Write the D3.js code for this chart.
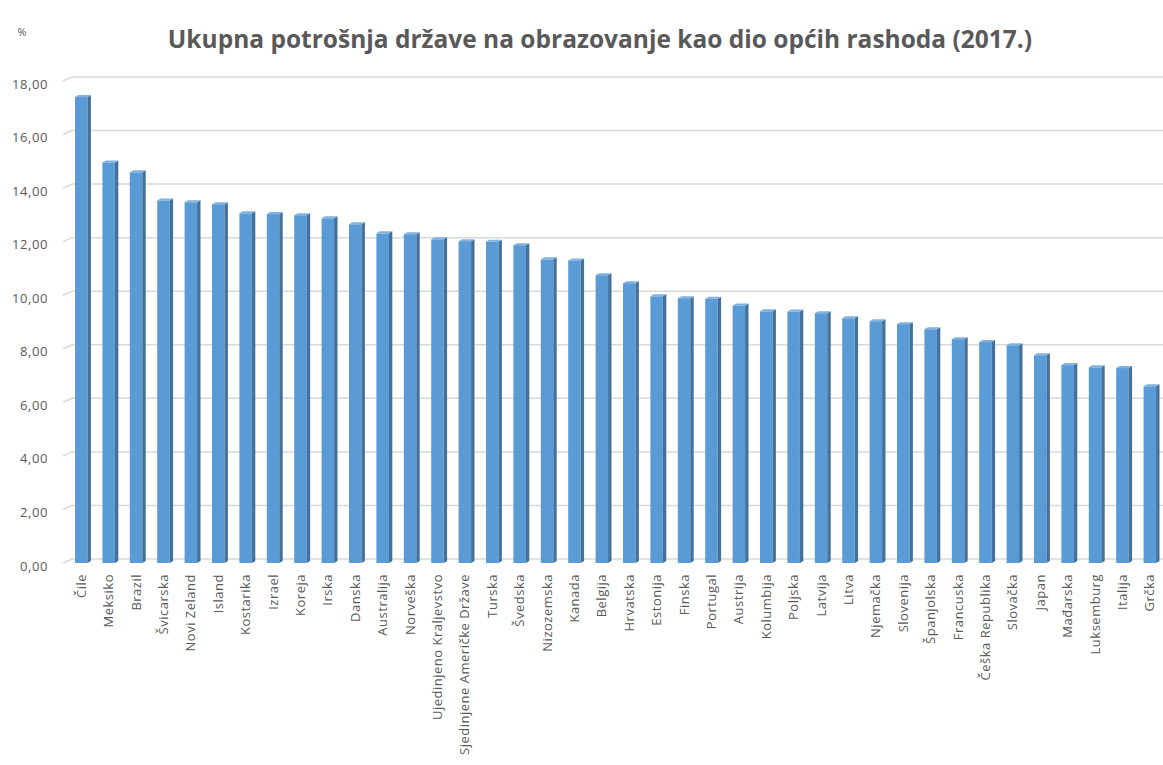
<!DOCTYPE html>
<html>
<head>
<meta charset="utf-8">
<script src="https://cdn.jsdelivr.net/npm/d3@7"></script>
<style>
  body { margin: 0; background: #fff; overflow: hidden; }
  text { font-family: "Open Sans", "Liberation Sans", sans-serif; }
</style>
</head>
<body>
<div id="chart"></div>
<script>
// chart data
var countries = ["Čile", "Meksiko", "Brazil", "Švicarska", "Novi Zeland", "Island", "Kostarika", "Izrael",
    "Koreja", "Irska", "Danska", "Australija", "Norveška", "Ujedinjeno Kraljevstvo", "Sjedinjene Američke Države",
    "Turska", "Švedska", "Nizozemska", "Kanada", "Belgija", "Hrvatska", "Estonija", "Finska", "Portugal",
    "Austrija", "Kolumbija", "Poljska", "Latvija", "Litva", "Njemačka", "Slovenija", "Španjolska",
    "Francuska", "Češka Republika", "Slovačka", "Japan", "Mađarska", "Luksemburg", "Italija", "Grčka"];
var values = [17.40, 14.96, 14.59, 13.54, 13.47, 13.40, 13.06, 13.03,
    12.99, 12.87, 12.65, 12.31, 12.28, 12.09, 12.02,
    12.00, 11.87, 11.34, 11.30, 10.75, 10.45, 9.96, 9.89, 9.87,
    9.62, 9.40, 9.39, 9.33, 9.14, 9.03, 8.92, 8.73,
    8.36, 8.25, 8.13, 7.76, 7.39, 7.31, 7.28, 6.60];
var yTicks = [0, 2, 4, 6, 8, 10, 12, 14, 16, 18];
var title = "Ukupna potrošnja države na obrazovanje kao dio općih rashoda (2017.)";
var unitLabel = "%";

var w = 1163, h = 765;

var svg = d3.select("#chart")
    .append("svg")
    .attr("width", w)
    .attr("height", h);

var x = d3.scaleBand()
    .domain(countries)
    .range([63.5, 1171])
    .paddingInner(0.42)
    .paddingOuter(0.42);

var y = d3.scaleLinear()
    .domain([0, 18])
    .range([563, 81]);

var fmt = function(v) { return d3.format(".2f")(v).replace(".", ","); };

// gridlines with the little 3D slant at the left
var grid = svg.append("g");
yTicks.forEach(function(t) {
    grid.append("path")
        .attr("d", "M63," + (y(t)) + "L72," + (y(t) - 4) + "L1163," + (y(t) - 4))
        .attr("fill", "none")
        .attr("stroke", "#d9d9d9")
        .attr("stroke-width", 1.5);
});

// y labels
svg.append("g")
    .selectAll("text")
    .data(yTicks)
    .enter()
    .append("text")
    .attr("x", 48)
    .attr("y", function(d) { return y(d) + 3; })
    .attr("dy", "0.35em")
    .attr("text-anchor", "end")
    .attr("fill", "#595959")
    .style("font-size", "13px")
    .style("letter-spacing", "0.6px")
    .text(fmt);

// bars: front face, dark side, light top
var bw = x.bandwidth();
var side = 3.4;
var bars = svg.append("g")
    .selectAll("g")
    .data(countries)
    .enter()
    .append("g");

bars.append("rect")
    .attr("x", function(d) { return x(d); })
    .attr("y", function(d, i) { return y(values[i]); })
    .attr("width", bw - side)
    .attr("height", function(d, i) { return y(0) - y(values[i]); })
    .attr("fill", "#5b9bd5");

bars.append("path")
    .attr("d", function(d, i) {
        var x0 = x(d) + bw - side, yt = y(values[i]);
        return "M" + x0 + "," + yt + "L" + (x0 + side) + "," + (yt - 2) +
            "L" + (x0 + side) + "," + (y(0) - 2) + "L" + x0 + "," + y(0) + "Z";
    })
    .attr("fill", "#41719c");

bars.append("path")
    .attr("d", function(d, i) {
        var x0 = x(d), yt = y(values[i]);
        return "M" + x0 + "," + yt + "L" + (x0 + side) + "," + (yt - 2) +
            "L" + (x0 + bw) + "," + (yt - 2) + "L" + (x0 + bw - side) + "," + yt + "Z";
    })
    .attr("fill", "#7fb2e0");

// category labels, rotated
svg.append("g")
    .selectAll("text")
    .data(countries)
    .enter()
    .append("text")
    .attr("transform", function(d) {
        return "translate(" + (x(d) + (bw - side) / 2 + 4.5) + ",574) rotate(-90)";
    })
    .attr("text-anchor", "end")
    .attr("fill", "#595959")
    .style("font-size", "13px")
    .style("letter-spacing", "0.5px")
    .text(function(d) { return d; });

// title and unit
svg.append("text")
    .attr("x", 600)
    .attr("y", 48)
    .attr("text-anchor", "middle")
    .attr("fill", "#595959")
    .style("font-size", "24.5px")
    .style("font-weight", "bold")
    .text(title);

svg.append("text")
    .attr("x", 22)
    .attr("y", 36)
    .attr("text-anchor", "middle")
    .attr("fill", "#595959")
    .style("font-size", "11px")
    .text(unitLabel);
</script>
</body>
</html>
